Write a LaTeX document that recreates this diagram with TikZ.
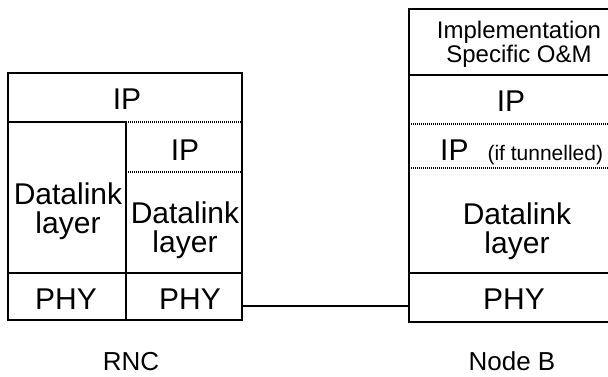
\documentclass[tikz,border=0pt]{standalone}
\usepackage{fontspec}
\setmainfont{Liberation Sans}
\begin{document}
\begin{tikzpicture}[x=1pt,y=-1pt,
    box/.style={line width=1.8pt},
    sep/.style={line width=1.1pt,dash pattern=on 1pt off 1pt},
    layer/.style={font=\fontsize{30}{29}\selectfont,align=center,inner sep=0pt},
    small/.style={font=\fontsize{24}{24}\selectfont,align=center,inner sep=0pt},
    label/.style={font=\fontsize{26}{26}\selectfont,inner sep=0pt,anchor=base}]
  \useasboundingbox (0,0) rectangle (608,376);
  \clip (0,0) rectangle (608,376);
  % RNC stack
  \draw[box] (8,73) rectangle (242,320);
  \draw[box] (8,122) -- (126,122) (126,122) -- (126,320) (8,273) -- (242,273);
  \draw[sep] (126,122) -- (242,122) (126,172) -- (242,172);
  \node[layer] (rncip)   at (127,99)  {IP};
  \node[layer] (rnctip)  at (185,150) {IP};
  \node[layer] (rncdl)   at (68,211)  {Datalink\\layer};
  \node[layer] (rncdlb)  at (185,230) {Datalink\\layer};
  \node[layer] (rncphy)  at (66,299)  {PHY};
  \node[layer] (rncphyb) at (190,299) {PHY};
  \node[label] (rnc) at (131,370) {RNC};
  % Node B stack, cut off on the right
  \draw[box] (640,9) -- (409,9) -- (409,322) -- (640,322);
  \draw[box] (409,75) -- (640,75) (409,273) -- (640,273);
  \draw[sep] (409,124) -- (640,124) (409,168) -- (640,168);
  \node[small] (nbom)  at (519,44)  {Implementation\\Specific O\&M};
  \node[layer] (nbip)  at (511,101) {IP};
  \node[layer,anchor=base west] (nbtip) at (440,160)
    {IP\hspace{19pt}{\fontsize{21}{21}\selectfont(if tunnelled)}};
  \node[layer] (nbdl)  at (517,231) {Datalink\\layer};
  \node[layer] (nbphy) at (514,299) {PHY};
  \node[label] (nb) at (512,370) {Node B};
  % link between the PHY layers
  \coordinate (rncport) at (242,306);
  \coordinate (nbport)  at (409,306);
  \draw[box] (rncport) -- (nbport);
\end{tikzpicture}
\end{document}
